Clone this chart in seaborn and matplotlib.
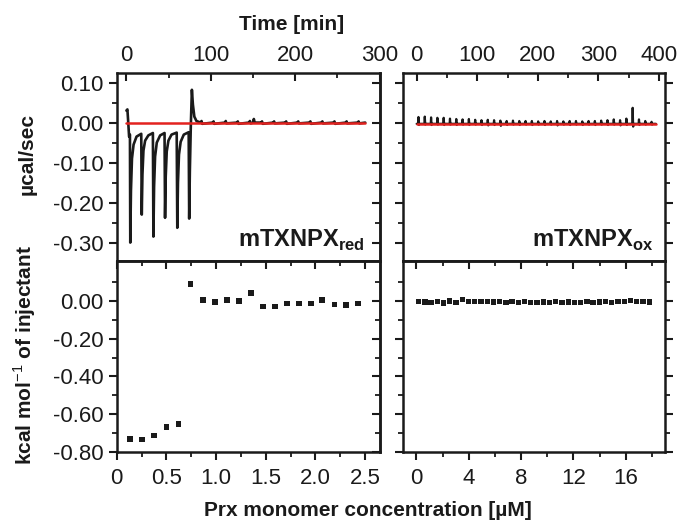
import matplotlib
matplotlib.use('Agg')
import matplotlib.pyplot as plt
from matplotlib.ticker import MultipleLocator, FixedLocator
import seaborn as sns

## raw ITC trace, reduced protein (time in min, heat in µcal/sec)
time_red = [0.0, 1.2, 2.2, 3.2, 4.2, 4.6, 5.4, 6.6, 8.5, 12.0,
            17.6, 18.2, 19.0, 20.2, 22.2, 26.0,
            31.4, 32.0, 32.8, 34.0, 36.0, 40.0,
            45.2, 45.8, 46.6, 47.8, 49.8, 53.5,
            59.6, 60.3, 61.1, 62.3, 64.3, 68.0,
            73.8, 74.4, 75.2, 76.3, 77.6, 78.8, 80.5, 83.0,
            88.0, 89.0, 89.8,
            102.5, 103.3, 104.0,
            117.0, 117.7, 118.5,
            131.3, 132.0, 132.8,
            145.5, 146.3, 147.2, 150.0, 151.0, 152.0,
            160.0, 160.7, 161.5,
            174.3, 175.0, 175.8,
            188.6, 189.3, 190.0,
            202.9, 203.6, 204.4,
            217.2, 218.0, 218.8,
            231.5, 232.2, 233.0,
            245.8, 246.5, 247.3,
            260.1, 260.9, 261.6,
            274.4, 275.1, 276.0, 283.0]
heat_red = [0.030, 0.033, 0.000, -0.035, -0.030, -0.300, -0.170, -0.090, -0.055, -0.035,
            -0.028, -0.230, -0.130, -0.070, -0.045, -0.032,
            -0.026, -0.285, -0.160, -0.085, -0.050, -0.032,
            -0.026, -0.238, -0.135, -0.072, -0.045, -0.030,
            -0.025, -0.263, -0.150, -0.080, -0.048, -0.030,
            -0.024, -0.240, -0.120, -0.010, 0.082, 0.045, 0.015, 0.004,
            0.000, 0.004, -0.003,
            0.000, 0.003, -0.003,
            0.000, 0.004, -0.002,
            0.000, 0.003, -0.003,
            0.000, 0.004, -0.002, 0.000, 0.009, 0.000,
            0.000, 0.003, -0.003,
            0.000, 0.003, -0.002,
            0.000, 0.003, -0.003,
            0.000, 0.003, -0.002,
            0.000, 0.003, -0.003,
            0.000, 0.003, -0.002,
            0.000, 0.003, -0.003,
            0.000, 0.003, -0.002,
            0.000, 0.003, -0.002, 0.000]
base_red_t = [0.0, 283.0]
base_red_q = [0.0, 0.0]

## raw ITC trace, oxidised protein: injection times and spike tops
inj_ox_t = [3.0, 13.4, 23.8, 34.2, 44.6, 55.0, 65.4, 75.8, 86.2, 96.6,
            107.0, 117.4, 127.8, 138.2, 148.6, 159.0, 169.4, 179.8, 190.2, 200.6,
            211.0, 221.4, 231.8, 242.2, 252.6, 263.0, 273.4, 283.8, 294.2, 304.6,
            315.0, 325.4, 335.8, 346.2, 356.6, 367.0, 377.4, 387.8]
inj_ox_top = [0.014, 0.015, 0.013, 0.012, 0.012, 0.010, 0.009, 0.008, 0.009, 0.007,
              0.006, 0.007, 0.006, 0.005, 0.004, 0.005, 0.004, 0.004, 0.004, 0.003,
              0.004, 0.003, 0.004, 0.003, 0.004, 0.004, 0.003, 0.004, 0.004, 0.005,
              0.006, 0.008, 0.006, 0.010, 0.037, 0.008, 0.004, 0.002]
inj_ox_dip = [-0.006, -0.005, -0.006, -0.005, -0.006, -0.005, -0.006, -0.005, -0.006, -0.005,
              -0.006, -0.007, -0.006, -0.008, -0.006, -0.005, -0.006, -0.005, -0.006, -0.005,
              -0.006, -0.005, -0.007, -0.005, -0.006, -0.005, -0.006, -0.005, -0.006, -0.005,
              -0.006, -0.005, -0.007, -0.006, -0.010, -0.006, -0.005, -0.005]
baseline_ox = -0.003
base_ox_t = [0.0, 395.0]
base_ox_q = [-0.003, -0.003]

## integrated heats (kcal/mol of injectant)
conc_red = [0.134, 0.255, 0.375, 0.503, 0.624, 0.741, 0.868, 0.989, 1.110, 1.230,
            1.354, 1.472, 1.593, 1.713, 1.834, 1.955, 2.065, 2.190, 2.310, 2.430]
dh_red = [-0.731, -0.733, -0.713, -0.667, -0.653, 0.090, 0.005, -0.004, 0.005, 0.000,
          0.042, -0.028, -0.028, -0.014, -0.014, -0.014, 0.005, -0.019, -0.020, -0.012]
conc_ox = [0.17, 0.65, 1.12, 1.60, 2.08, 2.55, 3.03, 3.50, 3.98, 4.46,
           4.93, 5.41, 5.89, 6.36, 6.84, 7.31, 7.79, 8.27, 8.74, 9.22,
           9.69, 10.17, 10.65, 11.12, 11.60, 12.07, 12.55, 13.03, 13.50, 13.98,
           14.45, 14.93, 15.41, 15.88, 16.36, 16.83, 17.31, 17.79]
dh_ox = [-0.004, -0.005, -0.010, -0.003, -0.011, 0.000, -0.008, 0.006, -0.002, -0.003,
         -0.004, -0.003, -0.005, -0.004, -0.006, -0.003, -0.010, -0.004, -0.006, -0.008,
         -0.005, -0.006, -0.004, -0.007, -0.005, -0.008, -0.006, -0.004, -0.007, -0.005,
         -0.003, -0.006, -0.004, -0.002, 0.004, -0.002, -0.004, -0.005]

## tick positions
heat_ticks = [-0.30, -0.20, -0.10, 0.00, 0.10]
heat_minor = [-0.35, -0.25, -0.15, -0.05, 0.05]
dh_ticks = [-0.80, -0.60, -0.40, -0.20, 0.00]
dh_minor = [-0.70, -0.50, -0.30, -0.10, 0.10]

INK = '#1a1a1a'
RED = '#e3221f'
FS = 16

sns.set_style('ticks')
plt.rcParams['font.family'] = ['Liberation Sans', 'DejaVu Sans']
plt.rcParams['mathtext.fontset'] = 'custom'
plt.rcParams['mathtext.rm'] = 'Liberation Sans'
plt.rcParams['mathtext.bf'] = 'Liberation Sans:bold'
plt.rcParams['axes.unicode_minus'] = False
plt.rcParams['axes.linewidth'] = 1.8
plt.rcParams['axes.edgecolor'] = INK
plt.rcParams['text.color'] = INK
plt.rcParams['xtick.color'] = INK
plt.rcParams['ytick.color'] = INK

fig = plt.figure(figsize=(6.82, 5.29), dpi=100)
L0, LW = 0.1711, 0.3861
R0, RW = 0.5914, 0.3837
B_TOP, H_TOP = 0.5066, 0.3554
B_BOT, H_BOT = 0.1456, 0.3610
ax_tl = fig.add_axes([L0, B_TOP, LW, H_TOP])
ax_tr = fig.add_axes([R0, B_TOP, RW, H_TOP])
ax_bl = fig.add_axes([L0, B_BOT, LW, H_BOT])
ax_br = fig.add_axes([R0, B_BOT, RW, H_BOT])

# build the oxidised trace as vertices around each listed injection
ox_t, ox_q = [0.0], [baseline_ox]
for t, top, dip in zip(inj_ox_t, inj_ox_top, inj_ox_dip):
    ox_t += [t - 0.6, t, t + 0.8, t + 1.8]
    ox_q += [baseline_ox, top, dip, baseline_ox]
ox_t.append(395.0)
ox_q.append(baseline_ox)

sns.lineplot(x=time_red, y=heat_red, ax=ax_tl, color=INK, lw=1.9,
             estimator=None, sort=False)
sns.lineplot(x=base_red_t, y=base_red_q, ax=ax_tl, color=RED, lw=1.8,
             estimator=None, sort=False)
sns.lineplot(x=ox_t, y=ox_q, ax=ax_tr, color=INK, lw=1.6,
             estimator=None, sort=False)
sns.lineplot(x=base_ox_t, y=base_ox_q, ax=ax_tr, color=RED, lw=1.8,
             estimator=None, sort=False)

sns.scatterplot(x=conc_red, y=dh_red, ax=ax_bl, marker='s', s=16,
                color=INK, edgecolor='none')
sns.scatterplot(x=conc_ox, y=dh_ox, ax=ax_br, marker='s', s=14,
                color=INK, edgecolor='none')

# limits
ax_tl.set_xlim(-11.5, 300.5)
ax_tr.set_xlim(-22, 410)
for ax in (ax_tl, ax_tr):
    ax.set_ylim(-0.346, 0.124)
ax_bl.set_xlim(0, 2.65)
ax_br.set_xlim(-1, 19)
for ax in (ax_bl, ax_br):
    ax.set_ylim(-0.80, 0.212)

# locators
ax_tl.xaxis.set_major_locator(MultipleLocator(100))
ax_tl.xaxis.set_minor_locator(MultipleLocator(50))
ax_tr.xaxis.set_major_locator(MultipleLocator(100))
ax_tr.xaxis.set_minor_locator(MultipleLocator(50))
ax_bl.xaxis.set_major_locator(MultipleLocator(0.5))
ax_bl.xaxis.set_minor_locator(MultipleLocator(0.25))
ax_br.xaxis.set_major_locator(MultipleLocator(4))
ax_br.xaxis.set_minor_locator(MultipleLocator(2))
for ax in (ax_tl, ax_tr):
    ax.yaxis.set_major_locator(FixedLocator(heat_ticks))
    ax.yaxis.set_minor_locator(FixedLocator(heat_minor))
for ax in (ax_bl, ax_br):
    ax.yaxis.set_major_locator(FixedLocator(dh_ticks))
    ax.yaxis.set_minor_locator(FixedLocator(dh_minor))

ax_tl.yaxis.set_major_formatter(matplotlib.ticker.FormatStrFormatter('%.2f'))
ax_bl.yaxis.set_major_formatter(matplotlib.ticker.FormatStrFormatter('%.2f'))
ax_bl.xaxis.set_major_formatter(matplotlib.ticker.FuncFormatter(
    lambda v, p: '0' if abs(v) < 1e-9 else f'{v:.1f}'))
ax_br.xaxis.set_major_formatter(matplotlib.ticker.FuncFormatter(
    lambda v, p: f'{v:.0f}'))

major = dict(length=5.5, width=1.5)
minor = dict(length=3.5, width=1.3)

# top panels: time axis on top, ticks inside
for ax in (ax_tl, ax_tr):
    ax.tick_params(axis='x', which='major', direction='in', top=True, bottom=False,
                   labeltop=True, labelbottom=False, labelsize=FS, pad=5, **major)
    ax.tick_params(axis='x', which='minor', direction='in', top=True, bottom=False, **minor)

# bottom panels: ticks outside at the bottom, inside at the top
for ax in (ax_bl, ax_br):
    ax.tick_params(axis='x', which='major', direction='out', top=False, bottom=True,
                   labelsize=FS, pad=6, **major)
    ax.tick_params(axis='x', which='minor', direction='out', top=False, bottom=True, **minor)
    sec = ax.secondary_xaxis('top')
    sec.xaxis.set_major_locator(FixedLocator(ax.xaxis.get_majorticklocs()))
    sec.xaxis.set_minor_locator(FixedLocator(ax.xaxis.get_minorticklocs()))
    sec.tick_params(axis='x', which='major', direction='in', labeltop=False, **major)
    sec.tick_params(axis='x', which='minor', direction='in', **minor)
    sec.spines['top'].set_linewidth(1.8)

# left panels: labelled y ticks outside, right-hand ticks inside
for ax in (ax_tl, ax_bl):
    ax.tick_params(axis='y', which='major', direction='out', left=True, right=False,
                   labelsize=FS, pad=4, **major)
    ax.tick_params(axis='y', which='minor', direction='out', left=True, right=False, **minor)
    sec = ax.secondary_yaxis('right')
    sec.yaxis.set_major_locator(FixedLocator(ax.yaxis.get_majorticklocs()))
    sec.yaxis.set_minor_locator(FixedLocator(ax.yaxis.get_minorticklocs()))
    sec.tick_params(axis='y', which='major', direction='in', labelright=False, **major)
    sec.tick_params(axis='y', which='minor', direction='in', **minor)

# right panels: ticks outside on both sides, no labels
for ax in (ax_tr, ax_br):
    ax.tick_params(axis='y', which='major', direction='out', left=True, right=True,
                   labelleft=False, **major)
    ax.tick_params(axis='y', which='minor', direction='out', left=True, right=True, **minor)

for ax in (ax_tl, ax_tr, ax_bl, ax_br):
    ax.set_xlabel('')
    ax.set_ylabel('')
    for side in ax.spines.values():
        side.set_visible(True)
        side.set_linewidth(1.8)

ax_tl.text(0.943, 0.075, r'mTXNPX$_{\mathbf{red}}$', transform=ax_tl.transAxes,
           ha='right', va='baseline', fontsize=17, fontweight='bold')
ax_tr.text(0.954, 0.075, r'mTXNPX$_{\mathbf{ox}}$', transform=ax_tr.transAxes,
           ha='right', va='baseline', fontsize=17, fontweight='bold')

fig.text(292 / 682, 1 - 24 / 529, 'Time [min]', ha='center', va='center',
         fontsize=15, fontweight='bold')
fig.text(368 / 682, 1 - 510 / 529, 'Prx monomer concentration [µM]', ha='center',
         va='center', fontsize=15, fontweight='bold')
fig.text(27 / 682, 1 - 154 / 529, 'µcal/sec', ha='center', va='center',
         rotation=90, fontsize=15, fontweight='bold')
fig.text(25 / 682, 1 - 355 / 529, r'kcal mol$^{-1}$ of injectant', ha='center',
         va='center', rotation=90, fontsize=15, fontweight='bold')

fig.savefig('out.png', dpi=100)
